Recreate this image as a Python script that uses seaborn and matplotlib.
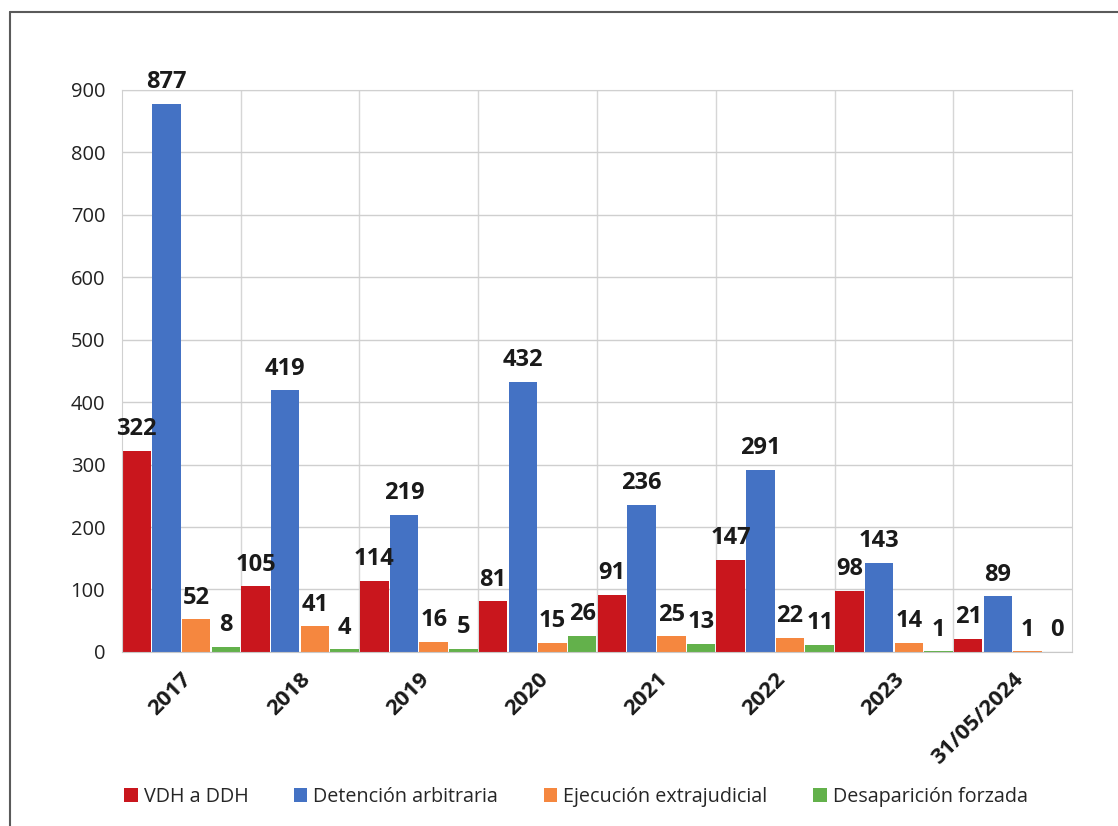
import matplotlib
matplotlib.use("Agg")
import matplotlib.pyplot as plt
import seaborn as sns
import pandas as pd
from matplotlib.lines import Line2D
from matplotlib.patches import Patch

categories = ["2017", "2018", "2019", "2020", "2021", "2022", "2023", "31/05/2024"]
series_names = ["VDH a DDH", "Detención arbitraria", "Ejecución extrajudicial", "Desaparición forzada"]
vdh = [322, 105, 114, 81, 91, 147, 98, 21]
detencion = [877, 419, 219, 432, 236, 291, 143, 89]
ejecucion = [52, 41, 16, 15, 25, 22, 14, 1]
desaparicion = [8, 4, 5, 26, 13, 11, 1, 0]
yticks = [0, 100, 200, 300, 400, 500, 600, 700, 800, 900]
colors = ["#C9161D", "#4472C4", "#F5873F", "#63B14B"]

rows = []
for name, vals in zip(series_names, [vdh, detencion, ejecucion, desaparicion]):
    for c, v in zip(categories, vals):
        rows.append({"cat": c, "serie": name, "valor": v})
df = pd.DataFrame(rows)

sns.set_style("white")
plt.rcParams["font.family"] = ["Open Sans", "DejaVu Sans"]

fig = plt.figure(figsize=(11.18, 8.26), dpi=100)
ax = fig.add_axes([0.109, 0.2107, 0.850, 0.6806])

sns.barplot(data=df, x="cat", y="valor", hue="serie", order=categories,
            hue_order=series_names, palette=colors, width=1.0, gap=0.04,
            ax=ax, legend=False, edgecolor="none", saturation=1)

for cont in ax.containers:
    ax.bar_label(cont, fmt="%d", padding=7, fontsize=17, fontweight="bold",
                 color="#1a1a1a")

ax.set_xlim(-0.5, len(categories) - 0.5)
ax.set_ylim(0, 900)
ax.set_yticks(yticks)
ax.set_yticklabels([str(t) for t in yticks], fontsize=14.5, color="#222222")
ax.set_xticks(range(len(categories)))
ax.set_xticklabels(categories, rotation=45, ha="right", rotation_mode="anchor",
                   fontsize=16, fontweight="bold", color="#1a1a1a")
ax.tick_params(axis="x", length=0, pad=12)
ax.tick_params(axis="y", length=0, pad=12)
ax.set_xlabel("")
ax.set_ylabel("")

# grid
ax.set_axisbelow(True)
ax.yaxis.grid(True, color="#cfcfcf", linewidth=1)
ax.set_xticks([i + 0.5 for i in range(len(categories) - 1)], minor=True)
ax.xaxis.grid(True, which="minor", color="#d6d6d6", linewidth=1)
ax.tick_params(axis="x", which="minor", length=0)
for s in ["top", "right", "left"]:
    ax.spines[s].set_color("#d0d0d0")
ax.spines["bottom"].set_color("#c8c8c8")

# legend
handles = [Patch(facecolor=c, edgecolor="none") for c in colors]
fig.legend(handles, series_names, loc="center", bbox_to_anchor=(0.515, 0.035),
           ncol=4, frameon=False, fontsize=14.2, handlelength=0.7,
           handleheight=0.75, handletextpad=0.3, columnspacing=2.3)

# frame lines
fig.add_artist(Line2D([10 / 1118, 1.0], [1 - 12 / 826, 1 - 12 / 826],
                      transform=fig.transFigure, color="#5a5a5a", linewidth=1.5))
fig.add_artist(Line2D([10 / 1118, 10 / 1118], [0.0, 1 - 12 / 826],
                      transform=fig.transFigure, color="#5a5a5a", linewidth=1.5))

fig.savefig("out.png", dpi=100)
